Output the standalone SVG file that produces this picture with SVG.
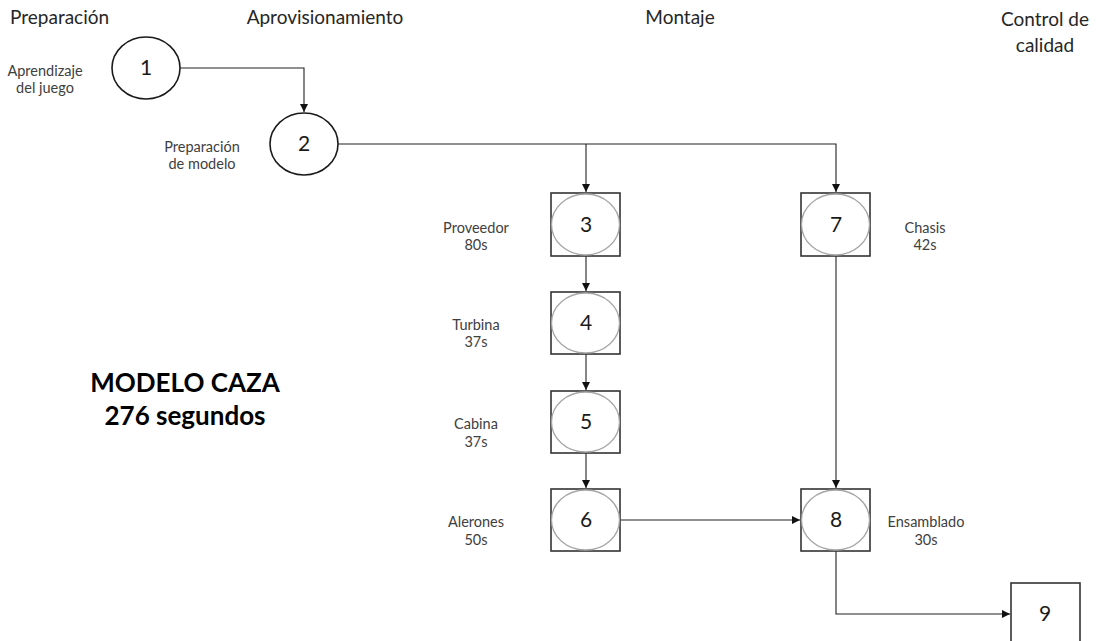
<svg xmlns="http://www.w3.org/2000/svg" width="1103" height="641" viewBox="0 0 1103 641">
<style>
text{font-family:Lato,"Open Sans","Liberation Sans",sans-serif;}
.hd{font-size:19px;fill:#262626;}
.lb{font-size:14.5px;fill:#404040;text-anchor:middle;}
.num{font-size:21px;fill:#1a1a1a;text-anchor:middle;}
.circ{fill:#fff;stroke:#1a1a1a;stroke-width:1.6;}
.box{fill:#fff;stroke:#333;stroke-width:1.6;}
.inner{fill:none;stroke:#a6a6a6;stroke-width:1.3;}
.con{fill:none;stroke:#222;stroke-width:1.1;}
.big{font-size:26px;font-weight:bold;fill:#000;text-anchor:middle;}
</style>
<defs>
<marker id="ah" markerWidth="8" markerHeight="8" refX="8" refY="4" orient="auto" markerUnits="userSpaceOnUse">
<path d="M0,0 L8,4 L0,8 Z" fill="#111"/>
</marker>
</defs>
<rect width="1103" height="641" fill="#fff"/>
<g id="headers">
<text class="hd" x="10" y="24">Preparación</text>
<text class="hd" x="325" y="24" text-anchor="middle">Aprovisionamiento</text>
<text class="hd" x="680" y="24" text-anchor="middle">Montaje</text>
<text class="hd" x="1045" y="26" text-anchor="middle" font-size="21">Control de</text>
<text class="hd" x="1045" y="52" text-anchor="middle" font-size="16.5">calidad</text>
</g>
<g id="connectors">
<path class="con" d="M180,68 H304 V112" marker-end="url(#ah)"/>
<path class="con" d="M338,144 H836 V192" marker-end="url(#ah)"/>
<path class="con" d="M586,144 V192" marker-end="url(#ah)"/>
<path class="con" d="M586,256 V291" marker-end="url(#ah)"/>
<path class="con" d="M586,354 V390" marker-end="url(#ah)"/>
<path class="con" d="M586,453 V488" marker-end="url(#ah)"/>
<path class="con" d="M836,256 V488" marker-end="url(#ah)"/>
<path class="con" d="M620,520 H800" marker-end="url(#ah)"/>
<path class="con" d="M836,551 V614 H1010" marker-end="url(#ah)"/>
</g>
<g id="node1">
<ellipse class="circ" cx="146" cy="68" rx="34" ry="31"/>
<text class="num" x="146" y="75">1</text>
<text class="lb" x="45" y="76">Aprendizaje</text>
<text class="lb" x="45" y="93">del juego</text>
</g>
<g id="node2">
<ellipse class="circ" cx="304" cy="144" rx="34" ry="31"/>
<text class="num" x="304" y="151">2</text>
<text class="lb" x="202" y="152">Preparación</text>
<text class="lb" x="202" y="169">de modelo</text>
</g>
<g id="node3">
<rect class="box" x="551" y="193" width="69" height="63"/>
<ellipse class="inner" cx="585.5" cy="224.5" rx="34" ry="30.5"/>
<text class="num" x="586" y="232">3</text>
<text class="lb" x="476" y="233">Proveedor</text>
<text class="lb" x="476" y="250">80s</text>
</g>
<g id="node4">
<rect class="box" x="551" y="292" width="69" height="62"/>
<ellipse class="inner" cx="585.5" cy="323" rx="34" ry="30"/>
<text class="num" x="586" y="330">4</text>
<text class="lb" x="476" y="330">Turbina</text>
<text class="lb" x="476" y="347">37s</text>
</g>
<g id="node5">
<rect class="box" x="551" y="391" width="69" height="62"/>
<ellipse class="inner" cx="585.5" cy="422" rx="34" ry="30"/>
<text class="num" x="586" y="429">5</text>
<text class="lb" x="476" y="429">Cabina</text>
<text class="lb" x="476" y="447">37s</text>
</g>
<g id="node6">
<rect class="box" x="551" y="489" width="69" height="62"/>
<ellipse class="inner" cx="585.5" cy="520" rx="34" ry="30"/>
<text class="num" x="586" y="527">6</text>
<text class="lb" x="476" y="527">Alerones</text>
<text class="lb" x="476" y="545">50s</text>
</g>
<g id="node7">
<rect class="box" x="801" y="193" width="69" height="63"/>
<ellipse class="inner" cx="835.5" cy="224.5" rx="34" ry="30.5"/>
<text class="num" x="836" y="232">7</text>
<text class="lb" x="925" y="233">Chasis</text>
<text class="lb" x="925" y="250">42s</text>
</g>
<g id="node8">
<rect class="box" x="801" y="489" width="69" height="62"/>
<ellipse class="inner" cx="835.5" cy="520" rx="34" ry="30"/>
<text class="num" x="836" y="527">8</text>
<text class="lb" x="926" y="527">Ensamblado</text>
<text class="lb" x="926" y="545">30s</text>
</g>
<g id="node9">
<rect class="box" x="1011" y="583" width="69" height="70"/>
<text class="num" x="1045" y="621">9</text>
</g>
<g id="title">
<text class="big" x="185" y="392">MODELO CAZA</text>
<text class="big" x="185" y="425">276 segundos</text>
</g>
</svg>
